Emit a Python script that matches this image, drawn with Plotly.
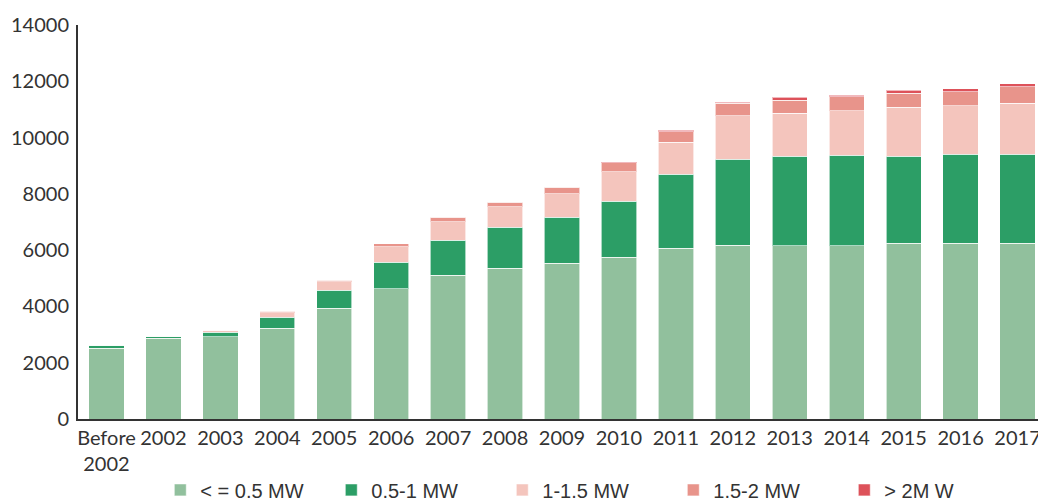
import plotly.graph_objects as go

categories = ["Before<br>2002", "2002", "2003", "2004", "2005", "2006", "2007", "2008", "2009",
              "2010", "2011", "2012", "2013", "2014", "2015", "2016", "2017"]
le_05 = [2522, 2867, 2924, 3221, 3932, 4630, 5115, 5364, 5531, 5755, 6064, 6181, 6156, 6156, 6241, 6252, 6252]
mw_05_1 = [107, 57, 166, 402, 640, 947, 1233, 1457, 1645, 1989, 2639, 3055, 3176, 3212, 3102, 3162, 3162]
mw_1_15 = [0, 20, 72, 153, 305, 544, 663, 721, 828, 1041, 1137, 1538, 1527, 1584, 1730, 1716, 1801]
mw_15_2 = [0, 0, 0, 50, 61, 109, 165, 167, 238, 320, 367, 441, 473, 498, 497, 497, 590]
gt_2 = [0, 0, 0, 0, 0, 0, 0, 0, 0, 35, 48, 46, 107, 60, 107, 107, 106]

series = [
    ("< = 0.5 MW", le_05, "#91C09D"),
    ("0.5-1 MW", mw_05_1, "#2C9E66"),
    ("1-1.5 MW", mw_1_15, "#F4C5BD"),
    ("1.5-2 MW", mw_15_2, "#E8948B"),
    ("> 2M W", gt_2, "#DD525A"),
]

fig = go.Figure()
for name, vals, col in series:
    fig.add_trace(go.Bar(
        x=categories, y=vals, name=name,
        marker=dict(color=col, line=dict(color="rgba(255,255,255,0.6)", width=1)),
    ))

fig.update_layout(
    barmode="stack",
    bargap=0.38,
    width=1046, height=500,
    margin=dict(l=70, r=8, t=17, b=89, autoexpand=False),
    plot_bgcolor="white", paper_bgcolor="white",
    font=dict(family="Lato, sans-serif", size=20, color="#333333"),
    showlegend=True,
    legend=dict(
        orientation="h", x=0.085, xanchor="left", y=-0.18, yanchor="middle",
        font=dict(family="Liberation Sans Narrow, sans-serif", size=20, color="#333333"),
        entrywidth=126, entrywidthmode="pixels",
        itemwidth=30, traceorder="normal",
    ),
    xaxis=dict(
        showline=True, linecolor="#333333", linewidth=2, automargin=False,
        showgrid=False, ticks="", tickangle=0, tickfont=dict(size=20),
    ),
    yaxis=dict(
        range=[0, 14000], dtick=2000, tickformat="d", automargin=False,
        showline=True, linecolor="#333333", linewidth=2,
        showgrid=False, zeroline=False, ticks="",
        ticklabelstandoff=3, tickfont=dict(size=20),
    ),
)

fig.write_html("out.html")
